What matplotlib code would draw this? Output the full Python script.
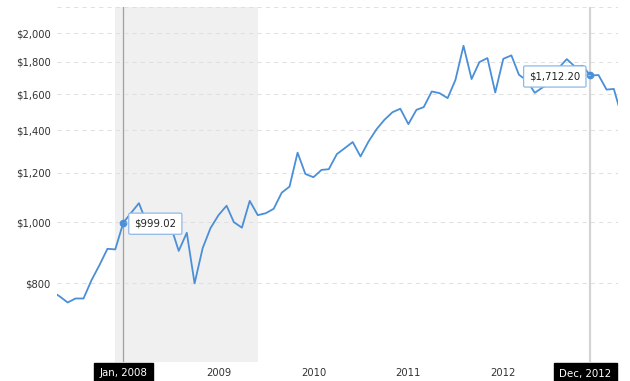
import matplotlib
matplotlib.use('Agg')
import matplotlib.pyplot as plt
import matplotlib.ticker as mticker
import pandas as pd

# monthly gold price, Apr 2007 - Apr 2013
months = pd.date_range('2007-04-01', '2013-04-01', freq='MS')
price = [
    777, 763, 746, 757, 757, 810, 855, 908, 906,                      # 2007 Apr-Dec
    999.02, 1037, 1073, 995, 965, 1000, 988, 901, 963, 800, 910, 979,  # 2008
    1027, 1063, 1001, 981, 1082, 1027, 1034, 1051, 1115, 1140, 1291, 1194,  # 2009
    1180, 1212, 1215, 1284, 1312, 1342, 1273, 1345, 1407, 1456, 1497, 1516,  # 2010
    1433, 1510, 1525, 1615, 1605, 1576, 1685, 1909, 1690, 1798, 1825, 1609,  # 2011
    1820, 1843, 1717, 1680, 1607, 1640, 1665, 1760, 1818, 1771, 1774, 1712.20,  # 2012
    1715, 1626, 1630, 1470,                                            # 2013 Jan-Apr
]

year_ticks = ['2009-01-01', '2010-01-01', '2011-01-01', '2012-01-01']
year_labels = ['2009', '2010', '2011', '2012']
y_ticks = [600, 800, 1000, 1200, 1400, 1600, 1800, 2000, 2200]
y_labels = ['', '$800', '$1,000', '$1,200', '$1,400', '$1,600', '$1,800', '$2,000', '']

recession = ('2007-12-01', '2009-06-01')
start_mark = '2008-01-01'
end_mark = '2012-12-01'

s = pd.Series(price, index=months)

fig = plt.figure(figsize=(6.3, 3.81), dpi=100)
ax = fig.add_axes([57 / 630, 19 / 381, 561 / 630, 355 / 381])

ax.axvspan(pd.Timestamp(recession[0]), pd.Timestamp(recession[1]), color='#f0f0f0', lw=0, zorder=0)
ax.axvline(pd.Timestamp(start_mark), color='#a0a0a0', lw=0.9, zorder=1)
ax.axvline(pd.Timestamp(end_mark), color='#d4d4d4', lw=1.6, zorder=1)

ax.plot(s.index, s.values, color='#4a8fd8', lw=1.3, zorder=3)

ax.set_yscale('log')
ax.set_ylim(600, 2200)
ax.yaxis.set_major_locator(mticker.FixedLocator(y_ticks))
ax.yaxis.set_major_formatter(mticker.FixedFormatter(y_labels))
ax.yaxis.set_minor_locator(mticker.NullLocator())
ax.grid(axis='y', color='#e0e0e0', lw=0.75, dashes=(4, 4), zorder=0.5)

ax.set_xlim(pd.Timestamp('2007-04-21'), pd.Timestamp('2013-03-17'))
ax.set_xticks(pd.to_datetime(year_ticks))
ax.set_xticklabels(year_labels)
ax.xaxis.set_minor_locator(mticker.NullLocator())

ax.tick_params(length=0, labelsize=7.2, labelcolor='#333333', pad=4.5)
for sp in ax.spines.values():
    sp.set_visible(False)

# tooltips at the two marked months
for d, side in [(start_mark, 'left'), (end_mark, 'right')]:
    t = pd.Timestamp(d)
    v = s[t]
    ax.plot([t], [v], 'o', color='#4a8fd8', ms=4.5, zorder=4)
    off = 11 if side == 'left' else -10
    ax.annotate(f'${v:,.2f}', xy=(t, v), xytext=(off, -1), textcoords='offset pixels',
                ha=side, va='center', fontsize=7.3, color='#222222', zorder=5,
                bbox=dict(boxstyle='round,pad=0.55,rounding_size=0.15', fc='white',
                          ec='#8db9e8', lw=0.9))
    # small pointer toward the point
    ax.annotate('', xy=(t, v), xytext=(off - (5 if side == 'left' else -5), 0),
                textcoords='offset pixels', zorder=6,
                arrowprops=dict(arrowstyle='-', color='#8db9e8', lw=0.9))

# black date boxes under the axis
for d, label, dx in [(start_mark, 'Jan, 2008', 0), (end_mark, 'Dec, 2012', -5)]:
    ax.annotate(label, xy=(pd.Timestamp(d), 0), xycoords=('data', 'axes fraction'),
                xytext=(dx, -11.5), textcoords='offset pixels', ha='center', va='center',
                fontsize=7.4, color='white', annotation_clip=False,
                bbox=dict(boxstyle='square,pad=0.55', fc='black', ec='black'))

fig.savefig('out.png', dpi=100)
